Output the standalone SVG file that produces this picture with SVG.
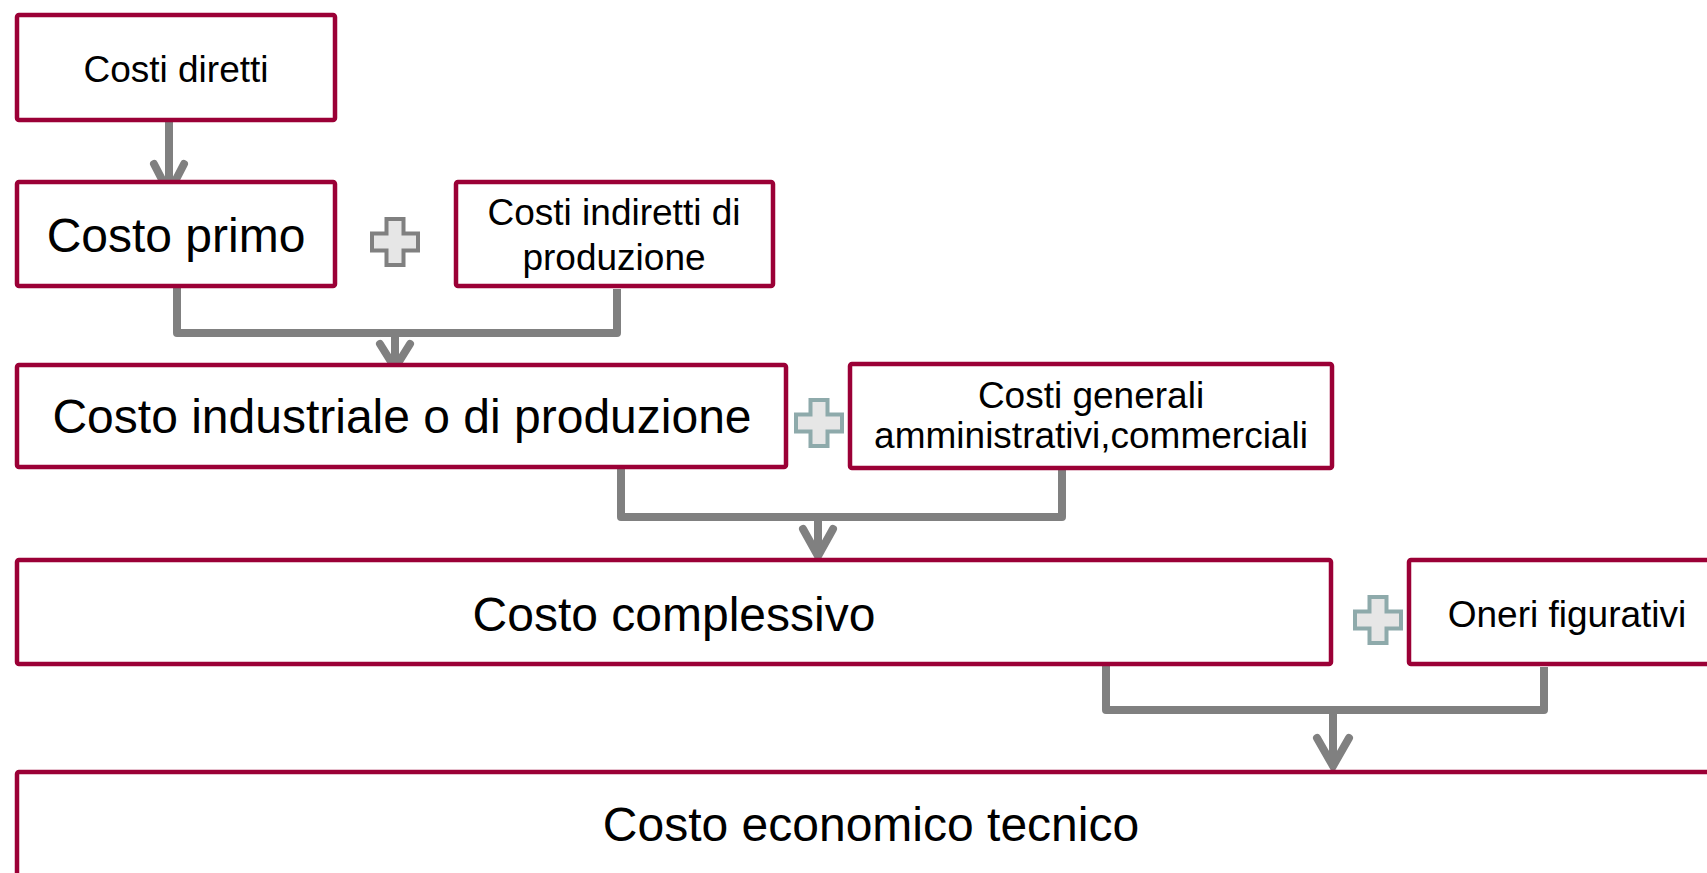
<svg xmlns="http://www.w3.org/2000/svg" width="1707" height="873" viewBox="0 0 1707 873">
<style>
.box{fill:#ffffff;stroke:#9b0036;stroke-width:4.5}
.t{font-family:"Liberation Sans",Arial,sans-serif;fill:#000;text-anchor:middle}
.big{font-size:48px}
.sm{font-size:37px}
.con{fill:none;stroke:#808080;stroke-width:8;stroke-linejoin:round}
.head{fill:none;stroke:#808080;stroke-width:8;stroke-linecap:round;stroke-linejoin:miter;stroke-miterlimit:10}
.plusA{fill:#e6e6e6;stroke:#808080;stroke-width:4}
.plusB{fill:#e6e6e6;stroke:#8eaaab;stroke-width:4}
</style>
<defs>
<path id="cross" d="M-8.5,-23 H8.5 V-8.5 H23 V8.5 H8.5 V23 H-8.5 V8.5 H-23 V-8.5 H-8.5 Z"/>
</defs>
<rect width="1707" height="873" fill="#ffffff"/>
<g id="connectors">
<path class="con" d="M169,122 V190"/>
<polyline class="head" points="154,164 169,193 184,164"/>
<path class="con" d="M177,288 V333 H617 V289"/>
<path class="con" d="M395,333 V362"/>
<polyline class="head" points="380,344 395,368 410,344"/>
<path class="con" d="M621,469 V517 H1062 V470"/>
<path class="con" d="M818,517 V552"/>
<polyline class="head" points="803,529 818,556 833,529"/>
<path class="con" d="M1106,666 V710 H1544 V667"/>
<path class="con" d="M1333,710 V762"/>
<polyline class="head" points="1317,738 1333,766 1349,738"/>
</g>
<g id="n-costi-diretti">
<rect class="box" x="17" y="15" width="318" height="105" rx="2"/>
<text class="t sm" x="176" y="82">Costi diretti</text>
</g>
<g id="n-costo-primo">
<rect class="box" x="17" y="182" width="318" height="104" rx="2"/>
<text class="t big" x="176" y="252">Costo primo</text>
</g>
<g id="plus-1">
<use href="#cross" class="plusA" transform="translate(395,242)"/>
</g>
<g id="n-costi-indiretti">
<rect class="box" x="456" y="182" width="317" height="104" rx="2"/>
<text class="t sm" x="614" y="225">Costi indiretti di</text>
<text class="t sm" x="614" y="270">produzione</text>
</g>
<g id="n-costo-industriale">
<rect class="box" x="17" y="365" width="769" height="102" rx="2"/>
<text class="t big" x="402" y="433">Costo industriale o di produzione</text>
</g>
<g id="plus-2">
<use href="#cross" class="plusB" transform="translate(819,423)"/>
</g>
<g id="n-costi-generali">
<rect class="box" x="850" y="364" width="482" height="104" rx="2"/>
<text class="t sm" x="1091" y="408">Costi generali</text>
<text class="t sm" x="1091" y="448">amministrativi,commerciali</text>
</g>
<g id="n-costo-complessivo">
<rect class="box" x="17" y="560" width="1314" height="104" rx="2"/>
<text class="t big" x="674" y="631">Costo complessivo</text>
</g>
<g id="plus-3">
<use href="#cross" class="plusB" transform="translate(1378,620)"/>
</g>
<g id="n-oneri-figurativi">
<rect class="box" x="1409" y="560" width="330" height="104" rx="2"/>
<text class="t sm" x="1567" y="627">Oneri figurativi</text>
</g>
<g id="n-costo-economico-tecnico">
<rect class="box" x="17" y="772" width="1720" height="150" rx="2"/>
<text class="t big" x="871" y="841">Costo economico tecnico</text>
</g>
</svg>
